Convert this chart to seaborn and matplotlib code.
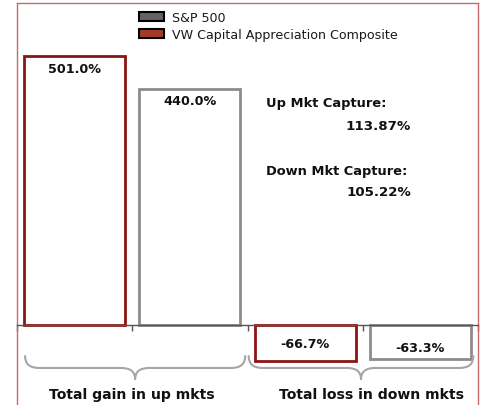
import matplotlib
matplotlib.use("Agg")
import matplotlib.pyplot as plt
import seaborn as sns
import pandas as pd
from matplotlib.patches import Patch, PathPatch
from matplotlib.path import Path

# ---- data ----
bars = ["Comp up", "S&P up", "Comp down", "S&P down"]
series = ["VW Capital Appreciation Composite", "S&P 500",
          "VW Capital Appreciation Composite", "S&P 500"]
values = [501.0, 440.0, -66.7, -63.3]
value_labels = ["501.0%", "440.0%", "-66.7%", "-63.3%"]
group_labels = ["Total gain in up mkts", "Total loss in down mkts"]
capture_titles = ["Up Mkt Capture:", "Down Mkt Capture:"]
capture_values = ["113.87%", "105.22%"]
legend_order = ["S&P 500", "VW Capital Appreciation Composite"]

edge_colors = {"VW Capital Appreciation Composite": "#8b1414", "S&P 500": "#8c8c8c"}
legend_fill = {"S&P 500": "#626262", "VW Capital Appreciation Composite": "#a23b2a"}

df = pd.DataFrame({"bar": bars, "series": series, "value": values})

sns.set_theme(style="white")
plt.rcParams["font.family"] = ["DejaVu Sans"]

W, H = 482, 406
fig = plt.figure(figsize=(W / 100, H / 100), dpi=100)
ax = fig.add_axes([17 / W, 0, 461 / W, 402 / H])

sns.barplot(data=df, x="bar", y="value", hue="series", dodge=False,
            palette=edge_colors, fill=False, width=0.876, linewidth=2,
            legend=False, ax=ax)
for p in ax.patches:
    p.set_facecolor("white")

ax.set_xlim(-0.5, 3.5)
ax.set_ylim(-149, 600)

# spines
frame_col = "#c86868"
for side in ["left", "top", "right"]:
    ax.spines[side].set_color(frame_col)
    ax.spines[side].set_linewidth(1)
ax.spines["bottom"].set_position(("data", 0))
ax.spines["bottom"].set_color("#555555")
ax.spines["bottom"].set_linewidth(1)
ax.set_xticks([-0.5, 0.5, 1.5, 2.5, 3.5])
ax.set_xticklabels([])
ax.set_yticks([])
ax.tick_params(axis="x", direction="out", length=4, width=1, color="#555555", bottom=True)
ax.set_xlabel("")
ax.set_ylabel("")

# value labels
offsets_px = [-12, -12, 17, 12]
for i, (v, lab, off) in enumerate(zip(values, value_labels, offsets_px)):
    ax.annotate(lab, xy=(i, v), xytext=(0, off), textcoords="offset pixels",
                ha="center", va="center", fontsize=9.2, fontweight="bold", color="#111111")

# capture texts (axes fraction coords)
def fx(px):
    return (px - 17) / 461
def fy(py):
    return 1 - (py - 4) / 402

cap_rows = [(104, 127), (171, 193)]
for (ty, vy), t, v in zip(cap_rows, capture_titles, capture_values):
    ax.text(fx(266), fy(ty), t, transform=ax.transAxes, ha="left", va="center",
            fontsize=9.4, fontweight="bold", color="#111111")
    ax.text(fx(411), fy(vy), v, transform=ax.transAxes, ha="right", va="center",
            fontsize=9.6, fontweight="bold", color="#111111")

# braces
def brace(x0, x1, ytop, ybar, ytip, r=0.12):
    xm = (x0 + x1) / 2
    verts = [(x0, ytop), (x0, ybar), (x0 + r, ybar),
             (xm - r, ybar),
             (xm, ybar), (xm, ytip),
             (xm, ybar), (xm + r, ybar),
             (x1 - r, ybar),
             (x1, ybar), (x1, ytop)]
    codes = [Path.MOVETO, Path.CURVE3, Path.CURVE3,
             Path.LINETO,
             Path.CURVE3, Path.CURVE3,
             Path.CURVE3, Path.CURVE3,
             Path.LINETO,
             Path.CURVE3, Path.CURVE3]
    ax.add_patch(PathPatch(Path(verts, codes), fill=False, edgecolor="#a6a6a6",
                           linewidth=1.5, capstyle="round", joinstyle="round"))

brace(-0.43, 1.48, -57.7, -80, -101)
brace(1.51, 3.46, -57.7, -80, -101)

for cx, lab in zip([0.5, 2.58], group_labels):
    ax.text(cx, -128, lab, ha="center", va="center", fontsize=10.1,
            fontweight="bold", color="#111111")

# legend
handles = [Patch(facecolor=legend_fill[s], edgecolor="black", linewidth=1.5, label=s)
           for s in legend_order]
fig.legend(handles=handles, loc="upper left", bbox_to_anchor=(139 / W, 1 - 12 / H),
           bbox_transform=fig.transFigure, frameon=False, fontsize=9.1,
           handlelength=2.0, handleheight=0.75, handletextpad=0.6,
           labelspacing=0.3, borderpad=0, borderaxespad=0, labelcolor="#1a1a1a")

fig.savefig("out.png", dpi=100)
